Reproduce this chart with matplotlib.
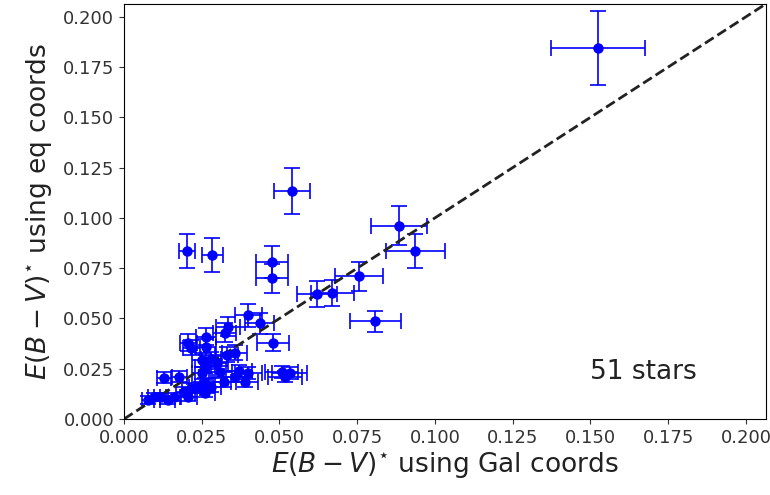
import matplotlib
matplotlib.use("Agg")
import matplotlib.pyplot as plt

# E(B-V)* using Gal coords (x) and eq coords (y), with errors
x_gal = [0.1525, 0.0540, 0.0203, 0.0284, 0.0475, 0.0475, 0.0885, 0.0937, 0.0756, 0.0670,
         0.0620, 0.0808,
         0.0077, 0.0097, 0.0120, 0.0140, 0.0160, 0.0194, 0.0207, 0.0216, 0.0240, 0.0129,
         0.0178, 0.0207, 0.0217, 0.0250, 0.0260, 0.0250, 0.0280, 0.0260, 0.0265, 0.0265,
         0.0400, 0.0437, 0.0335, 0.0324, 0.0480, 0.0330, 0.0356, 0.0507, 0.0533, 0.0517,
         0.0400, 0.0388, 0.0356, 0.0323, 0.0310, 0.0260, 0.0300, 0.0280, 0.0370]
y_eq = [0.1845, 0.1135, 0.0835, 0.0815, 0.0780, 0.0700, 0.0960, 0.0835, 0.0710, 0.0625,
        0.0620, 0.0485,
        0.0095, 0.0110, 0.0110, 0.0095, 0.0110, 0.0135, 0.0110, 0.0155, 0.0160, 0.0205,
        0.0210, 0.0380, 0.0355, 0.0230, 0.0260, 0.0295, 0.0160, 0.0130, 0.0360, 0.0410,
        0.0515, 0.0475, 0.0460, 0.0430, 0.0380, 0.0320, 0.0330, 0.0235, 0.0230, 0.0210,
        0.0230, 0.0185, 0.0210, 0.0185, 0.0235, 0.0180, 0.0280, 0.0300, 0.0240]
x_err = [0.0152, 0.0057, 0.0027, 0.0034, 0.0051, 0.0051, 0.0090, 0.0095, 0.0078, 0.0069,
         0.0065, 0.0082,
         0.0020, 0.0020, 0.0022, 0.0023, 0.0024, 0.0026, 0.0027, 0.0028, 0.0030, 0.0022,
         0.0025, 0.0027, 0.0028, 0.0031, 0.0032, 0.0031, 0.0033, 0.0032, 0.0032, 0.0032,
         0.0044, 0.0047, 0.0038, 0.0037, 0.0051, 0.0038, 0.0040, 0.0054, 0.0056, 0.0055,
         0.0044, 0.0043, 0.0040, 0.0037, 0.0036, 0.0032, 0.0035, 0.0033, 0.0041]
y_err = [0.0185, 0.0114, 0.0085, 0.0083, 0.0080, 0.0072, 0.0097, 0.0085, 0.0073, 0.0065,
         0.0065, 0.0052,
         0.0020, 0.0021, 0.0021, 0.0020, 0.0021, 0.0022, 0.0021, 0.0024, 0.0024, 0.0027,
         0.0028, 0.0042, 0.0039, 0.0029, 0.0032, 0.0035, 0.0024, 0.0022, 0.0040, 0.0044,
         0.0055, 0.0051, 0.0049, 0.0047, 0.0042, 0.0037, 0.0038, 0.0030, 0.0029, 0.0028,
         0.0029, 0.0026, 0.0028, 0.0026, 0.0030, 0.0025, 0.0033, 0.0035, 0.0030]
n_stars_label = "51 stars"
lim = [0.0, 0.2065]

fig = plt.figure(figsize=(7.7, 4.95), dpi=100)
ax = fig.add_axes([0.161, 0.1535, 0.834, 0.839])
ax.errorbar(x_gal, y_eq, xerr=x_err, yerr=y_err, fmt='o', color='blue',
            ecolor='blue', markersize=6.5, elinewidth=1.2, capsize=5.5, capthick=1.2)
ax.plot(lim, lim, '--', lw=2, color='#222222')
ax.set_xlim(lim)
ax.set_ylim(lim)
ax.set_xticks([0.0, 0.025, 0.05, 0.075, 0.1, 0.125, 0.15, 0.175, 0.2])
ax.set_yticks([0.0, 0.025, 0.05, 0.075, 0.1, 0.125, 0.15, 0.175, 0.2])
ax.tick_params(labelsize=13, colors='#333333')
ax.set_xlabel(r"$E(B-V)^{\star}$ using Gal coords", fontsize=19, color='#222222', labelpad=3)
ax.set_ylabel(r"$E(B-V)^{\star}$ using eq coords", fontsize=19, color='#222222', labelpad=6)
ax.text(0.167, 0.0235, n_stars_label, fontsize=19, ha='center', va='center', color='#222222')
fig.savefig("out.png", dpi=100)
